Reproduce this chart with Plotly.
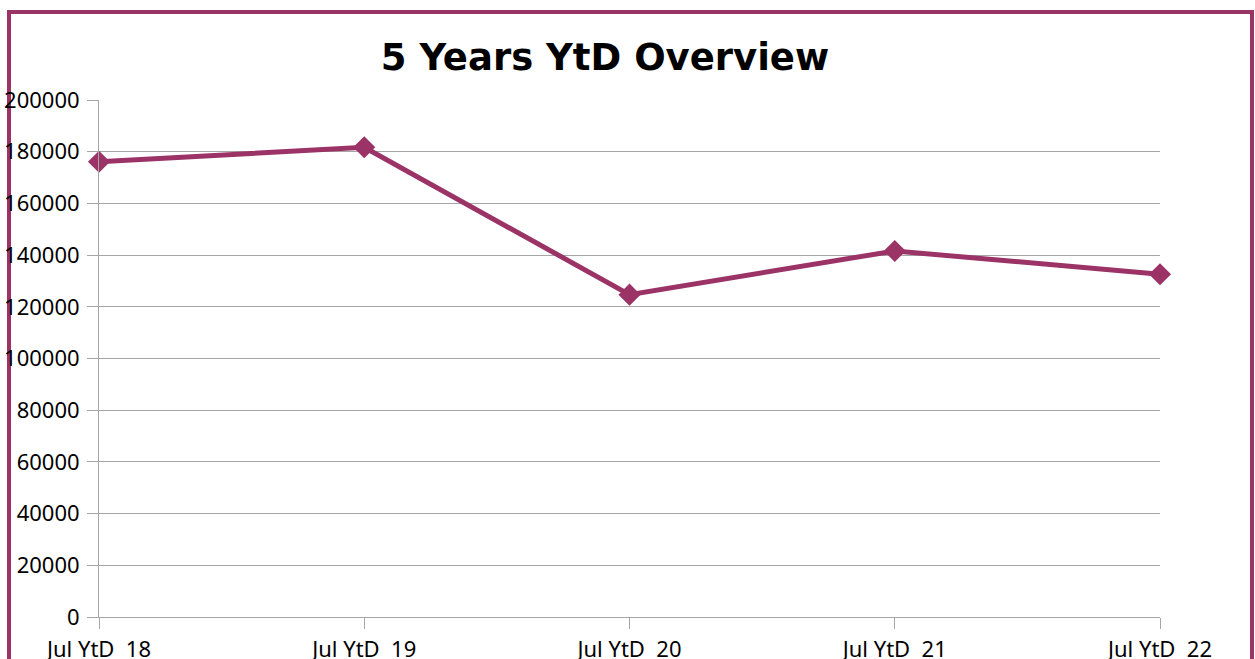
import plotly.graph_objects as go

categories = ["Jul YtD  18", "Jul YtD  19", "Jul YtD  20", "Jul YtD  21", "Jul YtD  22"]
values = [176100, 181700, 124700, 141600, 132600]
y_ticks = [0, 20000, 40000, 60000, 80000, 100000, 120000, 140000, 160000, 180000, 200000]
title_text = "5 Years YtD Overview"

W, H = 1255, 659
L, R, T, B = 99, 95, 100, 42
PW, PH = W - L - R, H - T - B
PLUM = "#9B3366"
GRID = "#A6A6A6"

def px_x(p):
    return (p - L) / PW

def px_y(p):
    return (H - B - p) / PH

fig = go.Figure()
fig.add_trace(go.Scatter(
    x=categories, y=values, mode="lines+markers",
    line=dict(color=PLUM, width=5),
    marker=dict(symbol="diamond", size=17, color=PLUM),
    showlegend=False, cliponaxis=False,
))

fig.update_layout(
    width=W, height=H,
    margin=dict(l=L, r=R, t=T, b=B, autoexpand=False),
    paper_bgcolor="white", plot_bgcolor="white",
    title=dict(text=title_text, x=605 / W, xref="container", xanchor="center",
               y=1 - 57 / H, yref="container", yanchor="middle",
               font=dict(family="DejaVu Sans", size=37, color="black", weight="bold")),
    xaxis=dict(
        type="category", range=[0, len(categories) - 1],
        tickvals=categories, ticktext=[c.replace("  ", " \u00a0") for c in categories],
        showgrid=False,
        showline=True, linecolor=GRID, linewidth=1,
        ticks="outside", ticklen=11, tickcolor=GRID,
        ticklabelstandoff=2,
        tickfont=dict(family="Noto Sans", size=22, color="black"),
        zeroline=False,
    ),
    yaxis=dict(
        range=[0, 200000], tickvals=y_ticks, ticktext=[str(v) for v in y_ticks],
        showgrid=True, gridcolor=GRID, gridwidth=1,
        showline=True, linecolor=GRID, linewidth=1,
        ticks="outside", ticklen=11, tickcolor=GRID,
        ticklabelstandoff=3,
        tickfont=dict(family="Noto Sans", size=22, color="black"),
        zeroline=False,
    ),
    shapes=[dict(type="rect", xref="paper", yref="paper", layer="below",
                 x0=px_x(9), x1=px_x(1252), y0=px_y(690), y1=px_y(12),
                 line=dict(color=PLUM, width=4), fillcolor="rgba(0,0,0,0)")],
)

fig.write_html("out.html", config={"displayModeBar": False},
               post_script="document.body.style.margin='0';document.body.style.overflow='hidden';")
